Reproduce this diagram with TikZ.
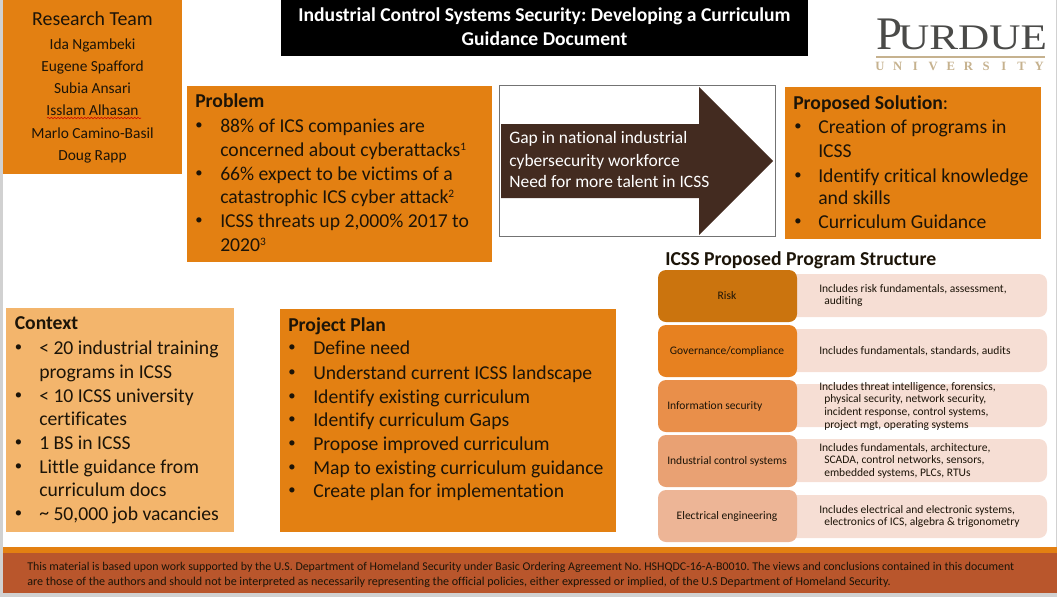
\documentclass[tikz,border=0pt]{standalone}
\usepackage{fontspec}
\usepackage{graphicx}
\setmainfont[Ligatures=NoCommon]{Carlito}
\newfontfamily\logofont{Liberation Serif}
\usetikzlibrary{decorations.pathmorphing}
\definecolor{boxorange}{HTML}{E38012}
\definecolor{boxlight}{HTML}{F3B56C}
\definecolor{arrowbrown}{HTML}{432B20}
\definecolor{footbrown}{HTML}{B9562C}
\definecolor{textdark}{HTML}{1C1408}
\definecolor{pale}{HTML}{F6DED4}
\definecolor{logogrey}{HTML}{4A4A48}
\definecolor{logotan}{HTML}{C6B28F}
\definecolor{stagea}{HTML}{CB740E}
\definecolor{stageb}{HTML}{E78120}
\definecolor{stagec}{HTML}{E98F4A}
\definecolor{staged}{HTML}{E9A173}
\definecolor{stagee}{HTML}{EDB596}
\newcommand{\supnum}[1]{\raisebox{0.55ex}{\fontsize{8.5}{9}\selectfont #1}}
\newcommand{\dotchar}{\raisebox{1.9pt}{\textbullet}}
\frenchspacing
\tikzset{
  txt/.style={inner sep=0,anchor=base west,text=textdark,font=\fontsize{14.75}{16}\selectfont},
  head/.style={txt,font=\fontsize{14.75}{16}\selectfont\bfseries},
  dotmark/.style={txt,font=\fontsize{11}{12}\selectfont},
  small/.style={inner sep=0,anchor=base west,text=textdark,font=\fontsize{8.65}{10}\selectfont},
  stage/.style={fill=#1,rounded corners=6pt},
}
\begin{document}
\begin{tikzpicture}[x=0.75pt,y=-0.75pt]
\useasboundingbox (0,0) rectangle (1057,597);
\fill[black!18](0,0)rectangle(2.5,597);
\fill[black!18](0,593)rectangle(1057,597);
\fill[black!18](1056,0)rectangle(1057,597);
% boxes
\fill[boxorange](3,0)rectangle(182,174);
\fill[black](281,0)rectangle(808,56);
\fill[boxorange](187,86)rectangle(492,262);
\fill[boxorange](785,87)rectangle(1041,239);
\fill[boxlight](6,308)rectangle(234,532);
\fill[boxorange](280,309)rectangle(616,532);
\fill[boxorange](3,547)rectangle(1057,553);
\fill[footbrown](3,553)rectangle(1057,593);
% research team
\node[txt,anchor=base,font=\fontsize{14.9}{16}\selectfont](team)at(92.5,25){Research Team};
\foreach \y/\t [count=\i] in {49/Ida Ngambeki,71/Eugene Spafford,93/Subia Ansari,115/Isslam Alhasan,138/Marlo Camino-Basil,160/Doug Rapp}
  \node[txt,anchor=base,font=\fontsize{11.55}{12}\selectfont](member\i)at(92.5,\y){\t};
\draw[red!80!black,line width=0.4pt,decorate,decoration={snake,amplitude=0.5pt,segment length=2.5pt}](47,118)--(141,118);
% title
\node[inner sep=0,anchor=base,text=white,font=\fontsize{14.7}{16}\selectfont\bfseries](title1)at(544.5,21.5){Industrial Control Systems Security: Developing a Curriculum};
\node[inner sep=0,anchor=base,text=white,font=\fontsize{14.7}{16}\selectfont\bfseries](title2)at(544.5,45){Guidance Document};
% logo
\node[inner sep=0,anchor=base west,text=logogrey,font=\logofont\fontsize{35}{36}\selectfont](logo)at(876,49.5){P\kern-3pt{\fontsize{27}{28}\selectfont\scalebox{1.2}[1]{URDUE}}};
\fill[logotan](876,55.5)rectangle(1045,57.5);
\foreach \c [count=\i] in {U,N,I,V,E,R,S,I,T,Y}
  \node[inner sep=0,anchor=base,text=logotan,font=\logofont\fontsize{9.5}{10}\selectfont\bfseries](logo\i)at(880+\i*17.7-17.7,70){\c};
% problem
\node[head](problem)at(195,107){Problem};
\foreach \y in {132,180,227} \node[dotmark](pb\y)at(195,\y){\dotchar};
\foreach \y/\t [count=\i] in {132/88\% of ICS companies are,156/concerned about cyberattacks\supnum{1},180/66\% expect to be victims of a,203/catastrophic ICS cyber attack\supnum{2},227/{ICSS threats up 2,000\% 2017 to},251/2020\supnum{3}}
  \node[txt](pl\i)at(220,\y){\t};
% arrow
\draw[black!55,line width=0.6pt,fill=white](499.5,85.5)rectangle(775,236.5);
\fill[arrowbrown](501,124)--(699,124)--(699,87)--(773,161)--(699,235)--(699,198)--(501,198)--cycle;
\foreach \y/\t [count=\i] in {143/Gap in national industrial,166/cybersecurity workforce,187/Need for more talent in ICSS}
  \node[txt,text=white,font=\fontsize{13.1}{14}\selectfont](gap\i)at(509,\y){\t};
% solution
\node[txt](solution)at(793,109){\textbf{Proposed Solution}:};
\foreach \y in {133,182,228} \node[dotmark](sb\y)at(794,\y){\dotchar};
\foreach \y/\t [count=\i] in {133/Creation of programs in,157/ICSS,182/Identify critical knowledge,204/and skills,228/Curriculum Guidance}
  \node[txt](sl\i)at(818,\y){\t};
% context
\node[head](context)at(14.5,329){Context};
\foreach \y in {354,402,449,473,520} \node[dotmark](cb\y)at(14.5,\y){\dotchar};
\foreach \y/\t [count=\i] in {354/< 20 industrial training,378/programs in ICSS,402/< 10 ICSS university,425/certificates,449/1 BS in ICSS,473/Little guidance from,496/curriculum docs,520/{\raisebox{0.1ex}{\textasciitilde} 50,000 job vacancies}}
  \node[txt](cl\i)at(39,\y){\t};
% project plan
\node[head](plan)at(288,331){Project Plan};
\foreach \y/\t [count=\i] in {354/Define need,379/Understand current ICSS landscape,403/Identify existing curriculum,426/Identify curriculum Gaps,450/Propose improved curriculum,474/Map to existing curriculum guidance,497/Create plan for implementation}{
  \node[dotmark](jb\i)at(288,\y){\dotchar};
  \node[txt](jl\i)at(313,\y){\t};
}
% program structure
\node[head,font=\fontsize{14.8}{16}\selectfont\bfseries](structure)at(665,265){ICSS Proposed Program Structure};
\foreach \y in {274,329,384,439,495}
  \fill[pale,rounded corners=6pt](785,\y)rectangle(1047,\y+43);
\foreach \y/\c in {270/stagea,325/stageb,380/stagec,435/staged,490/stagee}
  \fill[stage=\c](658,\y)rectangle(797,\y+52);
\foreach \x/\y/\t [count=\i] in {727/299/Risk,727/354/{Governance/compliance},727/519/Electrical engineering}
  \node[small,anchor=base](stage\i)at(\x,\y){\t};
\node[small](stage4)at(667,409){Information security};
\node[small](stage5)at(667,464){Industrial control systems};
\foreach \x/\y/\t [count=\i] in {
  819/292/{Includes risk fundamentals, assessment,},824/304/auditing,
  819/354/{Includes fundamentals, standards, audits},
  819/390/{Includes threat intelligence, forensics,},824/402/{physical security, network security,},824/415/{incident response, control systems,},824/428/{project mgt, operating systems},
  819/451/{Includes fundamentals, architecture,},824/463/{SCADA, control networks, sensors,},824/476/{embedded systems, PLCs, RTUs},
  819/513/{Includes electrical and electronic systems,},824/525/{electronics of ICS, algebra \& trigonometry}}
  \node[small](detail\i)at(\x,\y){\t};
% footer
\node[small,font=\fontsize{8.92}{10}\selectfont](foot1)at(27,570){This material is based upon work supported by the U.S. Department of Homeland Security under Basic Ordering Agreement No. HSHQDC-16-A-B0010. The views and conclusions contained in this document};
\node[small,font=\fontsize{9.05}{10}\selectfont](foot2)at(27,585){are those of the authors and should not be interpreted as necessarily representing the official policies, either expressed or implied, of the U.S Department of Homeland Security.};
\end{tikzpicture}
\end{document}
